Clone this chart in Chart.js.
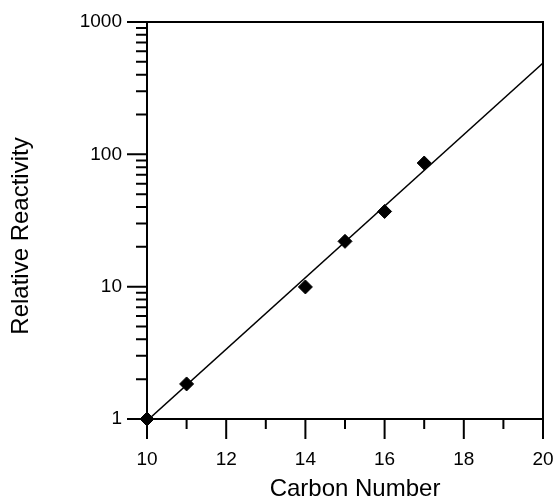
<!DOCTYPE html>
<html>
<head>
<meta charset="utf-8">
<script src="https://cdn.jsdelivr.net/npm/chart.js@4/dist/chart.umd.min.js"></script>
<style>
	html, body { margin: 0; padding: 0; background: #fff; }
	#wrap { width: 556px; height: 502px; }
</style>
</head>
<body>
<div id="wrap"><canvas id="Reactivity"></canvas></div>
<script>
// measured points
const carbon_number = [10, 11, 14, 15, 16, 17];
const relative_reactivity = [1, 1.84, 9.95, 22, 37, 86];
// fitted line, end points
const fit_x = [10, 20];
const fit_y = [0.97, 490];
const x_title = "Carbon Number";
const y_title = "Relative Reactivity";

const font_family = "'Liberation Sans', Arial, Helvetica, sans-serif";

// frame + tick marks (major / minor) drawn from the scales
const frame_plugin = {
	id: "frame",
	afterDraw(chart) {
		const ctx = chart.ctx;
		const area = chart.chartArea;
		const xs = chart.scales.x;
		const ys = chart.scales.y;
		ctx.save();
		ctx.strokeStyle = "black";
		ctx.lineWidth = 2;
		ctx.strokeRect(area.left, area.top, area.right - area.left, area.bottom - area.top);

		ctx.beginPath();
		for (let v = 10; v <= 20; v++) {
			let px = xs.getPixelForValue(v);
			let len = v % 2 === 0 ? 20 : 10;
			ctx.moveTo(px, area.bottom);
			ctx.lineTo(px, area.bottom + len);
		}
		for (let d = 1; d <= 1000; d *= 10) {
			let py = ys.getPixelForValue(d);
			ctx.moveTo(area.left, py);
			ctx.lineTo(area.left - 20, py);
			if (d < 1000) {
				for (let m = 2; m <= 9; m++) {
					py = ys.getPixelForValue(m * d);
					ctx.moveTo(area.left, py);
					ctx.lineTo(area.left - 11, py);
				}
			}
		}
		ctx.stroke();

		// axis titles
		ctx.fillStyle = "black";
		ctx.font = "24px " + font_family;
		ctx.textAlign = "center";
		ctx.textBaseline = "middle";
		ctx.fillText(x_title, 355, 489);
		ctx.translate(21, 236);
		ctx.rotate(-Math.PI / 2);
		ctx.fillText(y_title, 0, 0);
		ctx.restore();
	},
};

let reactivity_chart = new Chart(document.getElementById("Reactivity").getContext("2d"), {
	type: "scatter",
	data: {
		datasets: [
			{
				data: carbon_number.map((c, i) => ({ x: c, y: relative_reactivity[i] })),
				pointStyle: "rectRot",
				pointRadius: 7,
				pointBackgroundColor: "black",
				pointBorderColor: "black",
				showLine: false,
				clip: false,
				order: 0,
			},
			{
				data: fit_x.map((c, i) => ({ x: c, y: fit_y[i] })),
				showLine: true,
				borderColor: "black",
				borderWidth: 1.5,
				pointRadius: 0,
				order: 1,
			},
		],
	},
	options: {
		responsive: true,
		maintainAspectRatio: false,
		animation: false,
		layout: { padding: { top: 22, right: 13, left: 0, bottom: 0 } },
		plugins: {
			legend: { display: false },
			tooltip: { enabled: false },
		},
		scales: {
			x: {
				type: "linear",
				min: 10,
				max: 20,
				grid: { display: false, drawTicks: false },
				border: { display: false },
				ticks: {
					stepSize: 2,
					padding: 29,
					color: "black",
					font: { family: font_family, size: 19 },
				},
				afterFit: (scale) => {
					scale.height = 83;
					scale.paddingLeft = 0;
					scale.paddingRight = 0;
				},
			},
			y: {
				type: "logarithmic",
				min: 1,
				max: 1000,
				grid: { display: false, drawTicks: false },
				border: { display: false },
				ticks: {
					padding: 25,
					color: "black",
					font: { family: font_family, size: 19 },
					autoSkip: false,
					callback: function (value) {
						let l = Math.log10(value);
						return Math.abs(l - Math.round(l)) < 1e-9 ? String(value) : "";
					},
				},
				afterFit: (scale) => {
					scale.width = 147;
					scale.paddingTop = 0;
					scale.paddingBottom = 0;
				},
			},
		},
	},
	plugins: [frame_plugin],
});
</script>
</body>
</html>
